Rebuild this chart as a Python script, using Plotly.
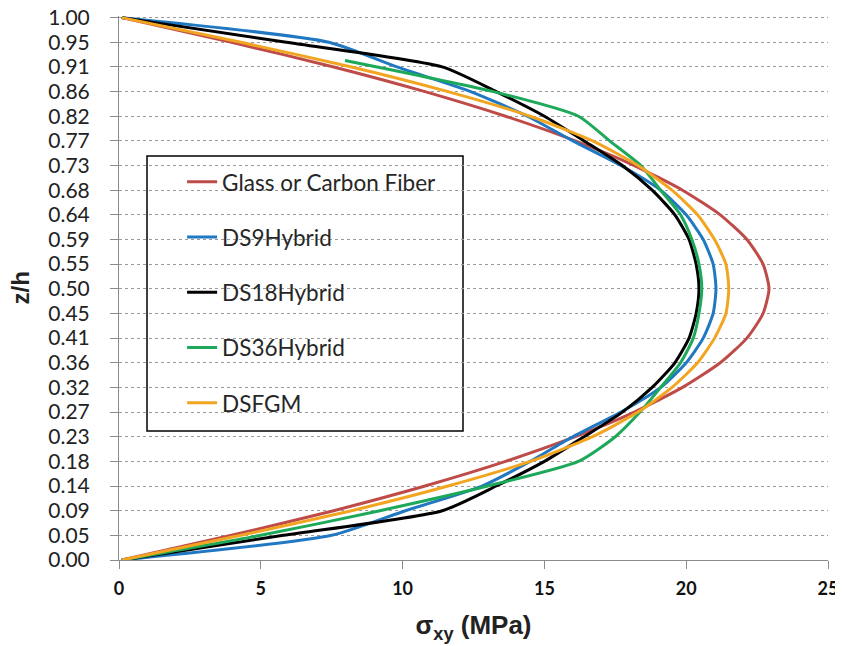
import plotly.graph_objects as go

# z/h levels (23 evenly spaced points) and their tick labels
z_levels = [0.0000, 0.0455, 0.0909, 0.1364, 0.1818, 0.2273, 0.2727, 0.3182,
            0.3636, 0.4091, 0.4545, 0.5000, 0.5455, 0.5909, 0.6364, 0.6818,
            0.7273, 0.7727, 0.8182, 0.8636, 0.9091, 0.9545, 1.0000]
z_tick_text = ["0.00", "0.05", "0.09", "0.14", "0.18", "0.23", "0.27", "0.32",
               "0.36", "0.41", "0.45", "0.50", "0.55", "0.59", "0.64", "0.68",
               "0.73", "0.77", "0.82", "0.86", "0.91", "0.95", "1.00"]
x_ticks = [0, 5, 10, 15, 20, 25]

# sigma_xy (MPa)
glass_carbon = [0.1, 3.97, 7.57, 10.79, 13.63, 16.09, 18.17, 19.87, 21.20, 22.14, 22.71, 22.92,
                22.71, 22.14, 21.20, 19.87, 18.17, 16.09, 13.63, 10.79, 7.57, 3.97, 0.1]
ds9_hybrid = [0.1, 7.5, 10.1, 12.8, 14.5, 16.0, 17.7, 19.1, 20.0, 20.6, 20.95, 21.05,
              20.95, 20.6, 20.0, 19.1, 17.7, 16.0, 14.4, 12.4, 9.8, 7.4, 0.1]
ds18_hybrid = [0.1, 5.8, 11.4, 13.3, 15.0, 16.4, 17.75, 18.8, 19.6, 20.1, 20.35, 20.45,
               20.35, 20.1, 19.6, 18.8, 17.75, 16.4, 15.0, 13.3, 11.4, 5.9, 0.1]
ds36_z = [0.0000, 0.0455, 0.0909, 0.1364, 0.1818, 0.2273, 0.2727, 0.3182,
          0.3636, 0.4091, 0.4545, 0.5000, 0.5455, 0.5909, 0.6364, 0.6818,
          0.7273, 0.7727, 0.8182, 0.8636, 0.9091, 0.9210]
ds36_hybrid = [0.1, 5.0, 9.2, 13.0, 16.2, 17.5, 18.37, 19.1, 19.8, 20.25, 20.45, 20.55,
               20.45, 20.2, 19.8, 19.1, 18.4, 17.3, 16.2, 13.2, 9.1, 7.97]
dsfgm = [0.1, 4.3, 8.2, 11.6, 14.5, 16.7, 18.3, 19.5, 20.4, 21.0, 21.4, 21.5,
         21.4, 21.0, 20.4, 19.5, 18.3, 16.7, 14.5, 11.6, 8.2, 4.3, 0.1]

series = [
    ("Glass or Carbon Fiber", glass_carbon, z_levels, "#BE4B48"),
    ("DS9Hybrid", ds9_hybrid, z_levels, "#1F78C1"),
    ("DS18Hybrid", ds18_hybrid, z_levels, "#000000"),
    ("DS36Hybrid", ds36_hybrid, ds36_z, "#1DA85A"),
    ("DSFGM", dsfgm, z_levels, "#F2A521"),
]

fig = go.Figure()
for i, (name, xs, zs, col) in enumerate(series):
    fig.add_trace(go.Scatter(
        x=xs, y=zs, name=name, mode="lines", legendgroup=str(i),
        line=dict(color=col, width=3, shape="spline", smoothing=0.6),
    ))

fig.update_layout(
    width=835, height=638,
    margin=dict(l=111, r=15, t=8, b=86),
    paper_bgcolor="white", plot_bgcolor="white",
    font=dict(family="Lato, sans-serif", color="#222222"),
    showlegend=True,
    legend=dict(
        x=0.089, y=0.734, xanchor="left", yanchor="top",
        bgcolor="rgba(0,0,0,0)", borderwidth=0,
        font=dict(family="Lato, sans-serif", size=22.5, color="#262626"),
        tracegroupgap=23,
    ),
    xaxis=dict(
        range=[0, 25], tickvals=x_ticks, ticks="outside", ticklen=8,
        tickcolor="#8a8a8a", showline=True, linecolor="#8a8a8a", linewidth=1,
        showgrid=False, zeroline=False, automargin=False, ticklabelstandoff=4,
        ticklabeloverflow="allow",
        tickfont=dict(family="Lato, sans-serif", size=18, color="#111111", weight="bold"),
        title=dict(text="σ<sub>xy</sub> (MPa)",
                   font=dict(family="Liberation Sans, Arial, sans-serif", size=26, color="#222222", weight="bold"),
                   standoff=18),
    ),
    yaxis=dict(
        range=[0, 1.003], tickvals=z_levels, ticktext=z_tick_text, ticks="outside", ticklen=8,
        tickcolor="#8a8a8a", showline=True, linecolor="#8a8a8a", linewidth=1,
        showgrid=True, gridcolor="#9a9a9a", gridwidth=1, griddash="dot",
        zeroline=False, automargin=False, ticklabelstandoff=16,
        ticklabeloverflow="allow",
        tickfont=dict(family="Lato, sans-serif", size=21, color="#222222"),
    ),
    annotations=[dict(text="<b>z/h</b>", xref="paper", yref="paper", x=-0.139, y=0.5,
                      xanchor="center", yanchor="middle", textangle=-90, showarrow=False,
                      font=dict(family="Liberation Sans, Arial, sans-serif", size=24, color="#222222"))],
    shapes=[dict(type="rect", xref="paper", yref="paper",
                 x0=(147 - 119) / 709, x1=(463 - 119) / 709,
                 y0=(560 - 431) / 544, y1=(560 - 156) / 544,
                 line=dict(color="#000000", width=1.5), fillcolor="white", layer="below")],
)

fig.write_html("out.html")
